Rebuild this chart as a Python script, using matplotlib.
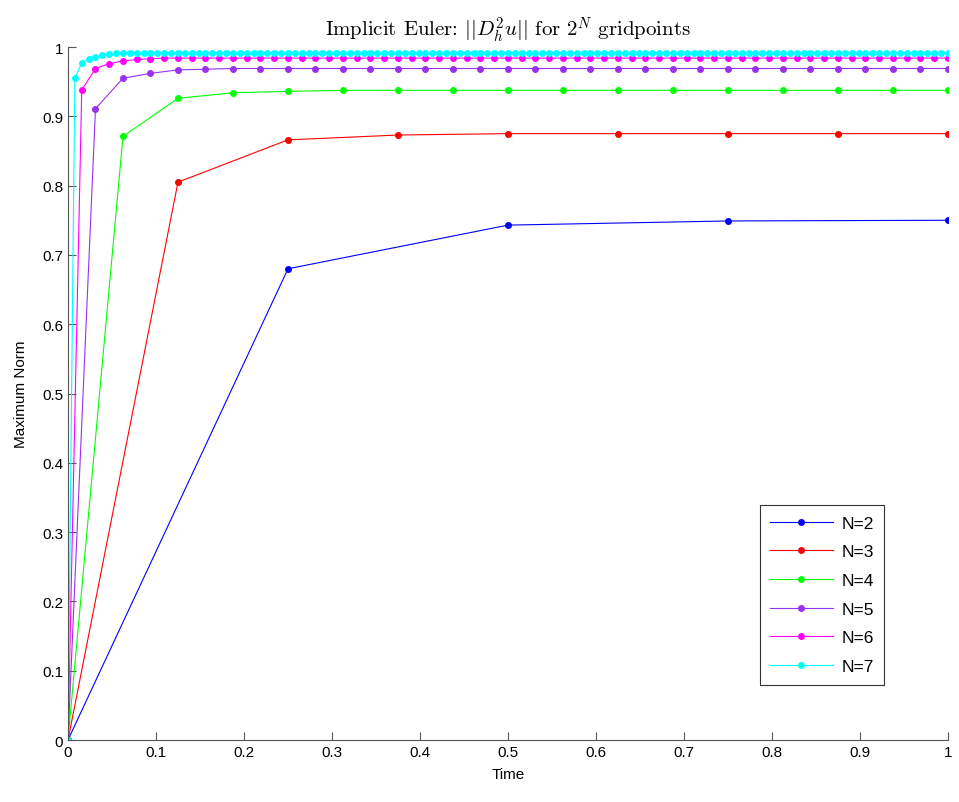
import numpy as np
import matplotlib
matplotlib.use("Agg")
import matplotlib.pyplot as plt

plt.rcParams["font.family"] = ["Liberation Sans", "DejaVu Sans"]
plt.rcParams["mathtext.fontset"] = "cm"

# max norm of D_h^2 u over time, one series per grid size 2^N
norm_n2 = [0, 0.680, 0.743, 0.749, 0.750]
norm_n3 = [0, 0.805, 0.866, 0.873, 0.875, 0.875, 0.875, 0.875, 0.875]
norm_n4 = [0, 0.871, 0.926, 0.934, 0.936] + [0.9375] * 12
norm_n5 = [0, 0.911, 0.955, 0.962, 0.967, 0.968] + [0.969] * 27
norm_n6 = [0, 0.938, 0.969, 0.976, 0.980, 0.982, 0.983] + [0.984] * 58
norm_n7 = [0, 0.955, 0.977, 0.983, 0.986, 0.988, 0.990, 0.991] + [0.992] * 121

series = [norm_n2, norm_n3, norm_n4, norm_n5, norm_n6, norm_n7]
labels = ["N=2", "N=3", "N=4", "N=5", "N=6", "N=7"]
colors = ["#0000ff", "#ff0000", "#00ff00", "#9932f0", "#ff00ff", "#00ffff"]

fig = plt.figure(figsize=(9.59, 8.03), dpi=100)
ax = fig.add_axes([0.0709, 0.0772, 0.9176, 0.863])

for vals, lab, col in zip(series, labels, colors):
    t = np.linspace(0, 1, len(vals))
    ax.plot(t, vals, "-o", color=col, lw=0.8, ms=4, label=lab)

ax.set_xlim(0, 1)
ax.set_ylim(0, 1)
ax.set_xticks(np.arange(0, 1.01, 0.1))
ax.set_yticks(np.arange(0, 1.01, 0.1))
ax.set_xticklabels(["0", "0.1", "0.2", "0.3", "0.4", "0.5", "0.6", "0.7", "0.8", "0.9", "1"])
ax.set_yticklabels(["0", "0.1", "0.2", "0.3", "0.4", "0.5", "0.6", "0.7", "0.8", "0.9", "1"])
ax.tick_params(direction="in", length=6, labelsize=11, color="#555555")
for side in ("top", "right"):
    ax.spines[side].set_visible(False)
for side in ("left", "bottom"):
    ax.spines[side].set_color("#555555")

ax.set_xlabel("Time", fontsize=11, labelpad=6)
ax.set_ylabel("Maximum Norm", fontsize=11, labelpad=10)
ax.set_title(r"Implicit Euler: $||D_h^2u||$ for $2^N$ gridpoints",
             fontsize=15, pad=8, family="cmr10")

leg = ax.legend(loc="upper left", bbox_to_anchor=(0.786, 0.339), borderaxespad=0,
                fontsize=12.5, fancybox=False, edgecolor="black",
                handlelength=3.6, handletextpad=0.5, borderpad=0.6,
                labelspacing=0.78)
leg.get_frame().set_linewidth(0.8)

fig.savefig("out.png", dpi=100)
